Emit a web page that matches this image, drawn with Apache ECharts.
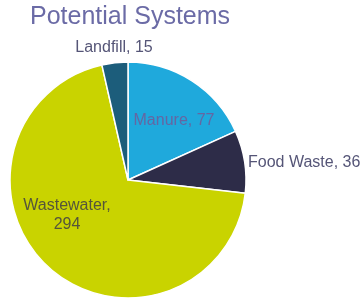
<!DOCTYPE html>
<html>
<head>
<meta charset="utf-8">
<script src="https://cdn.jsdelivr.net/npm/echarts@6/dist/echarts.min.js"></script>
<style>
  html, body { margin: 0; padding: 0; background: #fff; }
  #main { width: 361px; height: 299px; }
</style>
</head>
<body>
<div id="main"></div>
<script>
const categories = ["Manure", "Food Waste", "Wastewater", "Landfill"];
const values = [77, 36, 294, 15];
const colors = ["#1FA9DC", "#2D2C48", "#C9D300", "#1C5D7B"];

// label placement per slice (px in chart)
const labelPos = {
  "Manure": { x: 174, y: 121, align: "center" },
  "Food Waste": { x: 248, y: 163, align: "left" },
  "Wastewater": { x: 67, y: 215, align: "center" },
  "Landfill": { x: 114, y: 48, align: "center" }
};
const labelColor = {
  "Manure": "#6566A2",
  "Food Waste": "#555577",
  "Wastewater": "#55553A",
  "Landfill": "#555577"
};

let chart = echarts.init(document.getElementById("main"));

let data = categories.map(function (name, i) {
  return {
    name: name,
    value: values[i],
    itemStyle: { color: colors[i] },
    label: {
      color: labelColor[name],
      formatter: name === "Wastewater" ? "{b},\n{c}" : "{b}, {c}"
    }
  };
});

let option = {
  backgroundColor: "#fff",
  animation: false,
  title: {
    text: "Potential Systems",
    left: 25,
    top: 0,
    textStyle: {
      color: "#6B6BA6",
      fontFamily: "Liberation Sans, Arial, sans-serif",
      fontSize: 25,
      fontWeight: "normal"
    }
  },
  series: [
    {
      type: "pie",
      center: [128, 180],
      radius: 118,
      startAngle: 90,
      clockwise: true,
      itemStyle: { borderColor: "#fff", borderWidth: 1.5 },
      label: {
        show: true,
        position: "inside",
        fontFamily: "Liberation Sans, Arial, sans-serif",
        fontSize: 16,
        lineHeight: 19
      },
      labelLine: { show: false },
      labelLayout: function (params) {
        let p = labelPos[categories[params.dataIndex]];
        return { x: p.x, y: p.y, align: p.align, verticalAlign: "middle" };
      },
      data: data
    }
  ]
};

chart.setOption(option);
</script>
</body>
</html>
